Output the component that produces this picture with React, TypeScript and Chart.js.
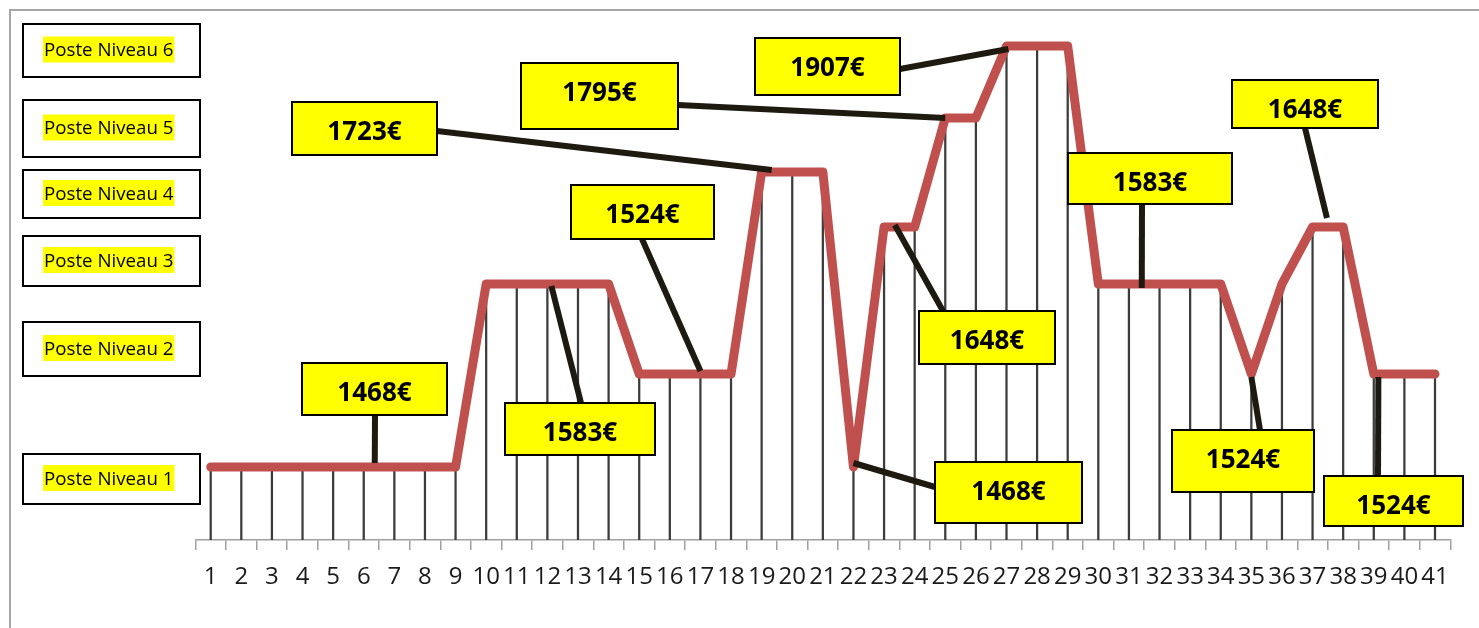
import React, { useEffect, useRef } from "react";
import { Chart, registerables } from "chart.js";

Chart.register(...registerables);

// ---- data ----
const periodLabels = [
  "1", "2", "3", "4", "5", "6", "7", "8", "9", "10",
  "11", "12", "13", "14", "15", "16", "17", "18", "19", "20",
  "21", "22", "23", "24", "25", "26", "27", "28", "29", "30",
  "31", "32", "33", "34", "35", "36", "37", "38", "39", "40", "41",
];

// salary of each period (euros)
const salaryByPeriod = [
  1468, 1468, 1468, 1468, 1468, 1468, 1468, 1468, 1468,
  1583, 1583, 1583, 1583, 1583,
  1524, 1524, 1524, 1524,
  1723, 1723, 1723,
  1468,
  1648, 1648,
  1795, 1795,
  1907, 1907, 1907,
  1583, 1583, 1583, 1583, 1583,
  1524,
  1583,
  1648, 1648,
  1524, 1524, 1524,
];

// distinct salary steps and the plotted height each one has in the picture
const salaryLevels = [1468, 1524, 1583, 1648, 1723, 1795, 1907];
const levelHeights = [73, 166, 256, 313, 368, 422, 494];

const levelNames = [
  "Poste Niveau 6",
  "Poste Niveau 5",
  "Poste Niveau 4",
  "Poste Niveau 3",
  "Poste Niveau 2",
  "Poste Niveau 1",
];

// callouts: salary shown, and the (fractional) period index the pointer reaches
const calloutSalaries = [1468, 1583, 1524, 1723, 1795, 1907, 1648, 1468, 1583, 1648, 1524, 1524];
const calloutPeriodIndex = [5.36, 11.13, 16.0, 18.33, 24.0, 26.06, 22.35, 21.0, 30.42, 36.47, 34.0, 38.15];

// ---- layout (pixels) ----
const calloutLayout = [
  { box: [302, 363, 145, 52], from: [375, 415], dy: -4 },
  { box: [505, 403, 150, 52], from: [581, 403], dy: 2 },
  { box: [571, 185, 143, 54], from: [642, 239], dy: -3 },
  { box: [292, 102, 145, 53], from: [437, 131], dy: -2 },
  { box: [521, 63, 157, 66], from: [678, 105], dy: 0 },
  { box: [755, 38, 145, 57], from: [900, 69], dy: 3 },
  { box: [919, 311, 136, 53], from: [943, 311], dy: -2 },
  { box: [935, 462, 147, 61], from: [935, 487], dy: -4 },
  { box: [1068, 153, 164, 51], from: [1142, 204], dy: 4 },
  { box: [1232, 80, 146, 48], from: [1305, 128], dy: -9 },
  { box: [1172, 430, 142, 62], from: [1260, 430], dy: 3 },
  { box: [1324, 476, 139, 50], from: [1378, 476], dy: 3 },
];

const levelBoxLayout = [
  [23, 24, 177, 53],
  [23, 100, 177, 57],
  [23, 170, 177, 48],
  [23, 236, 177, 50],
  [23, 322, 177, 54],
  [23, 454, 177, 50],
];

const heightOf = (s: number) => levelHeights[salaryLevels.indexOf(s)];
const plotted = salaryByPeriod.map(heightOf);

const FONT = "'Open Sans', 'Noto Sans', sans-serif";

const overlayPlugin = {
  id: "overlay",
  afterDraw(chart: any) {
    const ctx = chart.ctx as CanvasRenderingContext2D;
    const xs = chart.scales.x;
    const ys = chart.scales.y;
    ctx.save();

    // outer frame
    ctx.strokeStyle = "#a6a6a6";
    ctx.lineWidth = 2;
    ctx.strokeRect(10, 10, 1520, 700);

    // level boxes
    ctx.font = `18.7px ${FONT}`;
    ctx.textBaseline = "alphabetic";
    levelNames.forEach((name, i) => {
      const [bx, by, bw, bh] = levelBoxLayout[i];
      ctx.fillStyle = "#ffffff";
      ctx.fillRect(bx, by, bw, bh);
      ctx.strokeStyle = "#000000";
      ctx.lineWidth = 2;
      ctx.strokeRect(bx, by, bw, bh);
      const cy = by + bh / 2 - 1;
      const tw = ctx.measureText(name).width;
      ctx.fillStyle = "#ffff00";
      ctx.fillRect(43, cy - 13, tw + 2, 26);
      ctx.fillStyle = "#000000";
      ctx.fillText(name, 44, cy + 0.357 * 18.7);
    });

    // callouts
    calloutSalaries.forEach((sal, i) => {
      const lay = calloutLayout[i];
      const ex = xs.getPixelForValue(calloutPeriodIndex[i]);
      const ey = ys.getPixelForValue(heightOf(sal)) + lay.dy;
      ctx.strokeStyle = "#1e1a10";
      ctx.lineWidth = 6;
      ctx.lineCap = "butt";
      ctx.beginPath();
      ctx.moveTo(lay.from[0], lay.from[1]);
      ctx.lineTo(ex, ey);
      ctx.stroke();
    });
    calloutSalaries.forEach((sal, i) => {
      const [bx, by, bw, bh] = calloutLayout[i].box;
      ctx.fillStyle = "#ffff00";
      ctx.fillRect(bx, by, bw, bh);
      ctx.strokeStyle = "#000000";
      ctx.lineWidth = 2;
      ctx.strokeRect(bx, by, bw, bh);
      ctx.fillStyle = "#000000";
      ctx.font = `bold 26px ${FONT}`;
      ctx.textAlign = "center";
      ctx.fillText(`${sal}€`, bx + bw / 2, by + 29 + 0.357 * 26);
      ctx.textAlign = "left";
    });

    ctx.restore();
  },
};

export default function App() {
  const ref = useRef<HTMLCanvasElement | null>(null);

  useEffect(() => {
    if (!ref.current) return;
    const chart = new Chart(ref.current, {
      type: "bar",
      data: {
        labels: periodLabels,
        datasets: [
          {
            type: "line",
            label: "Salaire",
            data: plotted,
            borderColor: "#c0504d",
            borderWidth: 9,
            borderCapStyle: "round",
            borderJoinStyle: "round",
            pointRadius: 0,
            tension: 0,
            clip: false,
          } as any,
          {
            type: "bar",
            label: "drop",
            data: plotted,
            backgroundColor: "#3c3c3c",
            barThickness: 1.6,
          } as any,
        ],
      },
      options: {
        responsive: false,
        animation: false,
        layout: { padding: { left: 195.4, right: 28.7, top: 40, bottom: 0 } },
        plugins: {
          legend: { display: false },
          tooltip: { enabled: false },
        },
        scales: {
          x: {
            offset: true,
            grid: {
              offset: true,
              drawOnChartArea: false,
              drawTicks: true,
              tickLength: 10,
              color: "#a0a0a0",
              lineWidth: 1.5,
            },
            border: { display: true, color: "#a0a0a0", width: 1.5 },
            ticks: {
              autoSkip: false,
              maxRotation: 0,
              minRotation: 0,
              padding: 13,
              color: "#1a1a1a",
              font: { family: FONT, size: 24 },
            },
            afterFit: (scale: any) => {
              scale.height = 88;
            },
          },
          y: { display: false, min: 0, max: 500 },
        },
      },
      plugins: [overlayPlugin],
    });
    return () => chart.destroy();
  }, []);

  return (
    <div style={{ position: "absolute", left: 0, top: 0, width: 1479, height: 628, background: "#ffffff" }}>
      <canvas ref={ref} width={1479} height={628} style={{ display: "block" }} />
    </div>
  );
}
